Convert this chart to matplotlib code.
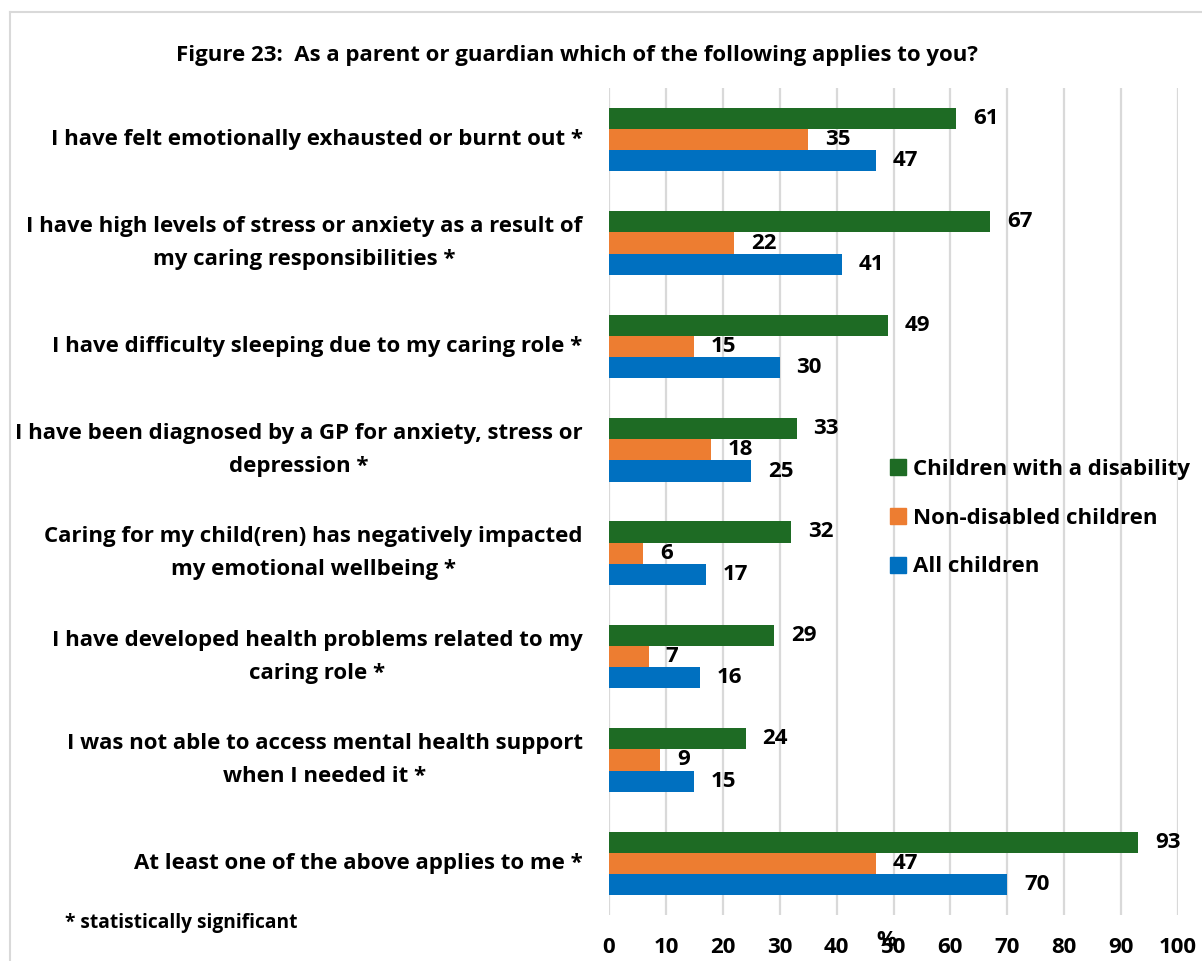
import numpy as np
import matplotlib
matplotlib.use('Agg')
import matplotlib.pyplot as plt
from matplotlib.lines import Line2D

# --- Datos ---
categorias = [
    "I have felt emotionally exhausted or burnt out *",
    "I have high levels of stress or anxiety as a result of\nmy caring responsibilities *",
    "I have difficulty sleeping due to my caring role *",
    "I have been diagnosed by a GP for anxiety, stress or\ndepression *",
    "Caring for my child(ren) has negatively impacted\nmy emotional wellbeing *",
    "I have developed health problems related to my\ncaring role *",
    "I was not able to access mental health support\nwhen I needed it *",
    "At least one of the above applies to me *",
]
series = ["Children with a disability", "Non-disabled children", "All children"]
con_discapacidad = [61, 67, 49, 33, 32, 29, 24, 93]
sin_discapacidad = [35, 22, 15, 18, 6, 7, 9, 47]
todos = [47, 41, 30, 25, 17, 16, 15, 70]
ticks_x = [0, 10, 20, 30, 40, 50, 60, 70, 80, 90, 100]

colores = ['#1E6B24', '#ED7D31', '#0070C0']
FUENTE = 'Open Sans'
plt.rcParams['font.family'] = [FUENTE, 'DejaVu Sans']
plt.rcParams['font.weight'] = 'bold'
TAM = 16

fig = plt.figure(figsize=(12.02, 9.61), dpi=100)
ax = fig.add_axes([609 / 1202, 1 - 915 / 961, (1178 - 609) / 1202, (915 - 88) / 961])

y = np.arange(len(categorias))
alto = 0.205
for i, (vals, col) in enumerate(zip([con_discapacidad, sin_discapacidad, todos], colores)):
    pos = y + (i - 1) * alto
    ax.barh(pos, vals, height=alto, color=col, zorder=3)
    for p, v in zip(pos, vals):
        ax.annotate(str(v), (v, p), xytext=(12, 0), textcoords='offset points',
                    ha='left', va='center', fontsize=TAM, fontweight='bold', color='black')

ax.set_xlim(0, 100)
ax.set_ylim(len(categorias) - 0.5, -0.5)
ax.set_xticks(ticks_x)
ax.set_xticklabels([str(t) for t in ticks_x], fontsize=TAM, fontweight='bold')
ax.tick_params(axis='x', length=0, pad=16)
ax.set_yticks(y)
ax.set_yticklabels(categorias, fontsize=TAM, fontweight='bold', multialignment='center',
                   linespacing=1.75, va='center')
ax.tick_params(axis='y', length=0, pad=19)
ax.grid(axis='x', color='#D9D9D9', linewidth=1.6, zorder=0)
for s in ax.spines.values():
    s.set_visible(False)

ax.set_xlabel('%', fontsize=TAM, fontweight='bold', labelpad=-21)
ax.xaxis.set_label_coords(0.488, -0.018, transform=ax.transAxes)

# leyenda
handles = [Line2D([0], [0], marker='s', linestyle='none', markersize=12,
                  markerfacecolor=c, markeredgecolor=c) for c in colores]
ax.legend(handles, series, loc='center left', bbox_to_anchor=(0.457, 0.48),
          frameon=False, prop={'weight': 'bold', 'size': TAM},
          handlelength=0.8, handletextpad=0.3, labelspacing=1.25)

fig.text(577 / 1202, 1 - 56 / 961,
         'Figure 23:  As a parent or guardian which of the following applies to you?',
         ha='center', va='center', fontsize=TAM, fontweight='bold')
fig.text(65 / 1202, 1 - 923 / 961, '* statistically significant',
         ha='left', va='center', fontsize=13.8, fontweight='bold')

# marco del gráfico
fig.add_artist(Line2D([10 / 1202, 10 / 1202], [0, 1 - 12 / 961], color='#D9D9D9', lw=1.5))
fig.add_artist(Line2D([10 / 1202, 1], [1 - 12 / 961, 1 - 12 / 961], color='#D9D9D9', lw=1.5))

fig.savefig('out.png', dpi=100)
